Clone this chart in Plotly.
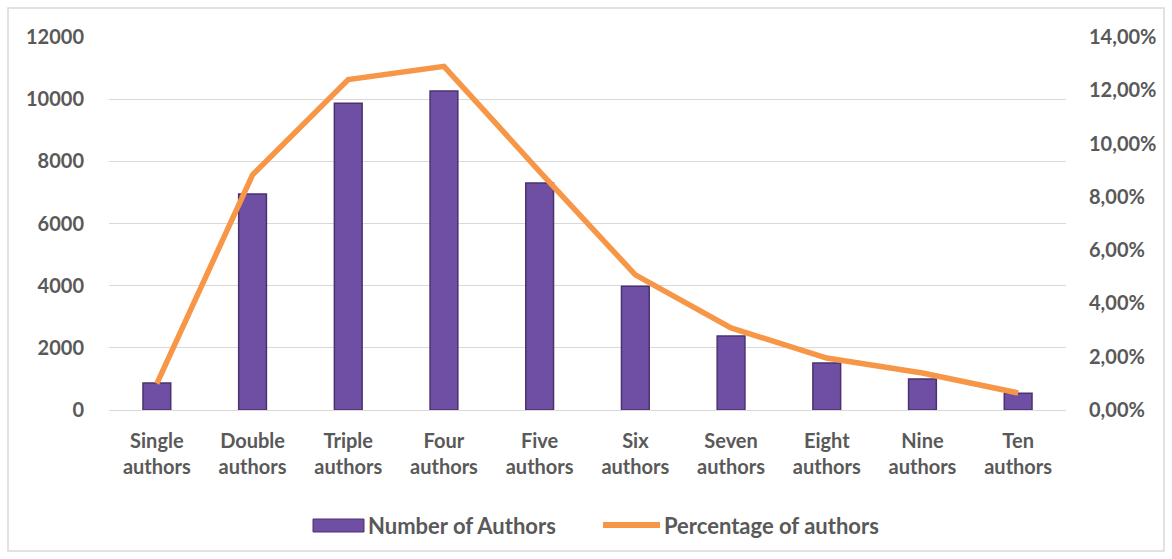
import plotly.graph_objects as go

categories = ["Single<br>authors", "Double<br>authors", "Triple<br>authors", "Four<br>authors",
              "Five<br>authors", "Six<br>authors", "Seven<br>authors", "Eight<br>authors",
              "Nine<br>authors", "Ten<br>authors"]
num_authors = [870, 6950, 9870, 10260, 7300, 3980, 2380, 1510, 1000, 540]
pct_authors = [0.0099, 0.0883, 0.1240, 0.1290, 0.0895, 0.0507, 0.0308, 0.0195, 0.0139, 0.0064]
series_names = ["Number of Authors", "Percentage of authors"]

FONT = "Lato"
TXT = "#595959"
BAR = "#6F4FA3"
BAR_EDGE = "#4A3270"
LINE = "#F79646"
tickfont = dict(family=FONT, size=20, color=TXT, weight="bold")

fig = go.Figure()
fig.add_trace(go.Bar(
    x=categories, y=num_authors, name=series_names[0],
    marker=dict(color=BAR, line=dict(color=BAR_EDGE, width=1.5)),
    width=0.29, yaxis="y"))
fig.add_trace(go.Scatter(
    x=categories, y=pct_authors, name=series_names[1],
    mode="lines", line=dict(color=LINE, width=5.5), yaxis="y2"))

W, H = 1172, 559
ml, mr, mt, mb = 109, 106, 37, 149
pw, ph = W - ml - mr, H - mt - mb

def px(x):
    return (x - ml) / pw

def py(y):
    return (H - mb - y) / ph

fig.update_layout(
    width=W, height=H,
    margin=dict(l=ml, r=mr, t=mt, b=mb, autoexpand=False),
    paper_bgcolor="white", plot_bgcolor="white",
    separators=", ",
    font=dict(family=FONT, size=20, color=TXT),
    showlegend=False,
    xaxis=dict(showgrid=False, showline=True, linecolor="#D9D9D9", linewidth=1,
               ticks="outside", ticklen=13, tickcolor="rgba(0,0,0,0)", tickfont=tickfont),
    yaxis=dict(range=[0, 12000], dtick=2000, tickformat="d", showgrid=True,
               gridcolor="#D9D9D9", gridwidth=1, zeroline=False, showline=False,
               ticks="outside", ticklen=20, tickcolor="rgba(0,0,0,0)", tickfont=tickfont),
    yaxis2=dict(range=[0, 0.14], dtick=0.02, tickformat=".2%", overlaying="y", side="right",
                showgrid=False, zeroline=False, showline=False,
                ticks="outside", ticklen=18, tickcolor="rgba(0,0,0,0)", tickfont=tickfont),
)

# chart border
fig.add_shape(type="rect", xref="paper", yref="paper",
              x0=px(8), x1=px(1164), y0=py(551), y1=py(8),
              line=dict(color="#D9D9D9", width=1.5), fillcolor="rgba(0,0,0,0)", layer="below")

# legend (drawn manually to match the wide symbols)
fig.add_shape(type="rect", xref="paper", yref="paper",
              x0=px(313), x1=px(364), y0=py(532), y1=py(519),
              line=dict(color=BAR_EDGE, width=1), fillcolor=BAR)
fig.add_shape(type="line", xref="paper", yref="paper",
              x0=px(603), x1=px(660), y0=py(525), y1=py(525),
              line=dict(color=LINE, width=6))
legfont = dict(family=FONT, size=22, color=TXT, weight="bold")
fig.add_annotation(text=series_names[0], xref="paper", yref="paper", x=px(366), y=py(525),
                   xanchor="left", yanchor="middle", showarrow=False, font=legfont)
fig.add_annotation(text=series_names[1], xref="paper", yref="paper", x=px(662), y=py(525),
                   xanchor="left", yanchor="middle", showarrow=False, font=legfont)

fig.write_html("out.html", config={"displayModeBar": False},
               post_script="document.body.style.margin='0';")
